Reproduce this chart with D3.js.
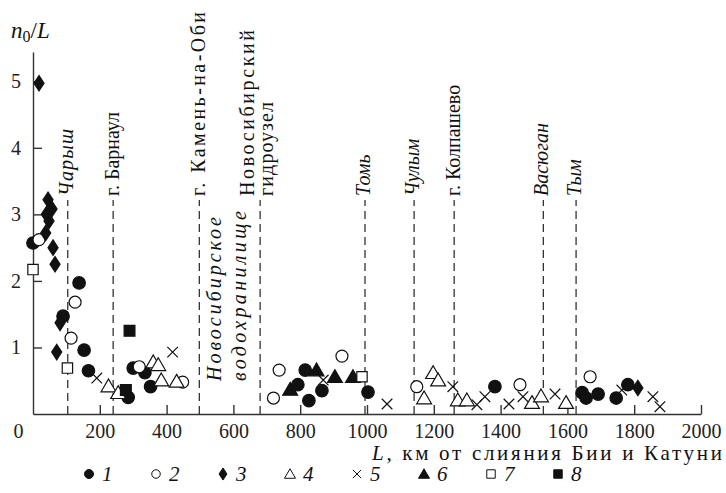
<!DOCTYPE html>
<html>
<head>
<meta charset="utf-8">
<script src="https://cdn.jsdelivr.net/npm/d3@7.9.0/dist/d3.min.js"></script>
<style>
  body { margin: 0; background: #fff; }
  .axis path, .axis line { stroke: #333; stroke-width: 1.4; }
</style>
</head>
<body>
<svg id="chart" width="726" height="493"></svg>
<script>
// ---- data (km from the Biya/Katun confluence, n0/L) ----
const series1 = [[0, 2.57], [138, 1.97], [90, 1.47], [153, 0.96], [166, 0.65], [285, 0.25], [300, 0.69],
  [335, 0.62], [352, 0.41], [793, 0.44], [815, 0.66], [826, 0.2], [865, 0.35], [1003, 0.33],
  [1383, 0.41], [1644, 0.32], [1656, 0.24], [1692, 0.3], [1746, 0.24], [1781, 0.44]];
const series2 = [[18, 2.62], [126, 1.68], [114, 1.14], [318, 0.71], [448, 0.48], [720, 0.24],
  [737, 0.66], [925, 0.87], [1149, 0.41], [1458, 0.44], [1668, 0.56]];
const series3 = [[18, 4.97], [45, 3.22], [57, 3.08], [40, 3.0], [48, 2.9], [38, 2.72], [60, 2.5],
  [66, 2.25], [81, 1.37], [71, 0.93], [1811, 0.39]];
const series4 = [[226, 0.42], [255, 0.32], [360, 0.78], [375, 0.74], [384, 0.51], [430, 0.49],
  [1171, 0.24], [1198, 0.62], [1213, 0.51], [1272, 0.21], [1299, 0.21], [1494, 0.17], [1521, 0.27], [1596, 0.17]];
const series5 = [[191, 0.54], [418, 0.93], [869, 0.51], [1060, 0.15], [1257, 0.41], [1329, 0.14],
  [1353, 0.26], [1425, 0.15], [1467, 0.26], [1563, 0.3], [1763, 0.36], [1856, 0.26], [1877, 0.11]];
const series6 = [[770, 0.37], [849, 0.66], [904, 0.56], [958, 0.56]];
const series7 = [[0, 2.17], [103, 0.69], [985, 0.56]];
const series8 = [[289, 1.25], [278, 0.36]];

const seriesNames = ['1', '2', '3', '4', '5', '6', '7', '8'];
const xTicks = [0, 200, 400, 600, 800, 1000, 1200, 1400, 1600, 1800, 2000];
const yTicks = [1, 2, 3, 4, 5];

// tributaries (italic) and towns/dams along the river
const rivers = [['Чарыш', 104], ['Томь', 994], ['Чулым', 1141], ['Васюган', 1528], ['Тым', 1626]];
const places = [[['г. Барнаул'], 240], [['г. Камень-на-Оби'], 498],
  [['Новосибирский', 'гидроузел'], 680], [['г. Колпашево'], 1261]];
const reservoir = ['Новосибирское', 'водохранилище'];

const FONT = '"Liberation Serif", "Times New Roman", serif';
// the original typeface runs wider on some labels; letter-space those to match
const stretch = { 'г. Камень-на-Оби': 184, 'Новосибирский': 166, 'гидроузел': 94, 'Чарыш': 67,
  'Новосибирское': 164, 'водохранилище': 170 };

// ---- scales ----
const svg = d3.select('#chart');
const x = d3.scaleLinear().domain([0, 2000]).range([33, 701]);
const y = d3.scaleLinear().domain([0, 5.44]).range([414, 52]);

// custom marker shapes (size = nominal width in px)
const diamond = { draw(ctx, s) { const w = s * 0.36, h = s * 0.55;
  ctx.moveTo(0, -h); ctx.lineTo(w, 0); ctx.lineTo(0, h); ctx.lineTo(-w, 0); ctx.closePath(); } };
const tri = { draw(ctx, s) { const w = s * 0.55, h = s * 0.95;
  ctx.moveTo(0, -h * 0.55); ctx.lineTo(w, h * 0.45); ctx.lineTo(-w, h * 0.45); ctx.closePath(); } };
const cross = { draw(ctx, s) { const a = s * 0.48;
  ctx.moveTo(-a, -a); ctx.lineTo(a, a); ctx.moveTo(a, -a); ctx.lineTo(-a, a); } };
const circ = { draw(ctx, s) { const r = s * 0.5; ctx.moveTo(r, 0); ctx.arc(0, 0, r, 0, 2 * Math.PI); } };
const sq = { draw(ctx, s) { const a = s * 0.47; ctx.rect(-a, -a, 2 * a, 2 * a); } };

const styles = [
  { type: circ, fill: '#111' },
  { type: circ, fill: '#fff' },
  { type: diamond, fill: '#111' },
  { type: tri, fill: '#fff' },
  { type: cross, fill: 'none' },
  { type: tri, fill: '#111' },
  { type: sq, fill: '#fff' },
  { type: sq, fill: '#111' }
];
const allSeries = [series1, series2, series3, series4, series5, series6, series7, series8];

function fit(sel, t) {
  if (stretch[t]) sel.attr('textLength', stretch[t]).attr('lengthAdjust', 'spacing');
}

// ---- reference dashed lines ----
const refKm = rivers.map(d => d[1]).concat(places.map(d => d[1]));
svg.append('g').selectAll('line').data(refKm).join('line')
  .attr('x1', d => x(d)).attr('x2', d => x(d))
  .attr('y1', y(0)).attr('y2', 200)
  .attr('stroke', '#333').attr('stroke-width', 1.3)
  .attr('stroke-dasharray', '8,5');

const labelSize = 20;
rivers.forEach(([t, km]) => {
  svg.append('text')
    .attr('transform', `translate(${x(km) + 5},196) rotate(-90)`)
    .attr('font-size', labelSize).style('font-family', FONT).style('font-style', 'italic').attr('fill', '#111')
    .text(t).call(fit, t);
});

places.forEach(([lines, km]) => {
  const offs = lines.length === 1 ? [6] : [-6, 13];
  lines.forEach((t, i) => {
    svg.append('text')
      .attr('transform', `translate(${x(km) + offs[i]},196) rotate(-90)`)
      .attr('font-size', labelSize).style('font-family', FONT).attr('fill', '#111')
      .text(t).call(fit, t);
  });
});

const resMid = x((places[1][1] + places[2][1]) / 2);
reservoir.forEach((t, i) => {
  svg.append('text')
    .attr('transform', `translate(${resMid + (i === 0 ? -9 : 16)},381) rotate(-90)`)
    .attr('font-size', labelSize).style('font-family', FONT).style('font-style', 'italic').attr('fill', '#111')
    .text(t).call(fit, t);
});

// ---- axes ----
const xAxis = svg.append('g').attr('class', 'axis')
  .attr('transform', `translate(0,${y(0)})`)
  .call(d3.axisBottom(x).tickValues(xTicks).tickSizeInner(-9).tickSizeOuter(0).tickPadding(10).tickFormat(d3.format('d')));
xAxis.selectAll('.tick').filter(d => d === 0).select('line').remove();
xAxis.selectAll('.tick').filter(d => d === 0).select('text').attr('x', -15);

const yAxis = svg.append('g').attr('class', 'axis')
  .attr('transform', `translate(${x(0)},0)`)
  .call(d3.axisLeft(y).tickValues(yTicks).tickSizeInner(-9).tickSizeOuter(0).tickPadding(12).tickFormat(d3.format('d')));

[xAxis, yAxis].forEach(g => g.selectAll('text')
  .style('font-family', FONT).attr('font-size', 20).attr('fill', '#222'));

// ---- markers ----
const sizeFor = [12.5, 12, 14, 13.5, 11, 13.5, 11, 11.5];
allSeries.forEach((data, i) => {
  const st = styles[i];
  const sym = d3.symbol().type(st.type).size(sizeFor[i]);
  svg.append('g').selectAll('path').data(data).join('path')
    .attr('transform', d => `translate(${x(d[0])},${y(d[1])})`)
    .attr('d', sym)
    .attr('fill', st.fill).attr('stroke', '#111').attr('stroke-width', 1.2);
});

// ---- axis titles ----
const yl = svg.append('text').attr('x', 11).attr('y', 38).attr('font-size', 23)
  .style('font-family', FONT).attr('fill', '#111');
yl.append('tspan').style('font-style', 'italic').text('n');
yl.append('tspan').attr('font-size', 16).attr('dy', 4).text('0');
yl.append('tspan').attr('dy', -4).text('/');
yl.append('tspan').style('font-style', 'italic').text('L');

const xl = svg.append('text').attr('x', 722).attr('y', 460).attr('text-anchor', 'end')
  .attr('font-size', 21).style('font-family', FONT).attr('fill', '#111')
  .attr('textLength', 350).attr('lengthAdjust', 'spacing');
xl.append('tspan').style('font-style', 'italic').text('L');
xl.append('tspan').text(', км от слияния Бии и Катуни');

// ---- legend ----
const legend = svg.append('g').selectAll('g').data(seriesNames).join('g')
  .attr('transform', (d, i) => `translate(${89 + i * 67},474)`);
const legSize = [9, 8.5, 11, 10, 8.5, 10, 9, 9];
legend.append('path')
  .attr('d', (d, i) => d3.symbol().type(styles[i].type).size(legSize[i])())
  .attr('fill', (d, i) => styles[i].fill).attr('stroke', '#111').attr('stroke-width', 1);
legend.append('text').attr('x', 13).attr('y', 7).attr('font-size', 21)
  .style('font-family', FONT).style('font-style', 'italic')
  .attr('fill', '#111').text(d => d);
</script>
</body>
</html>
